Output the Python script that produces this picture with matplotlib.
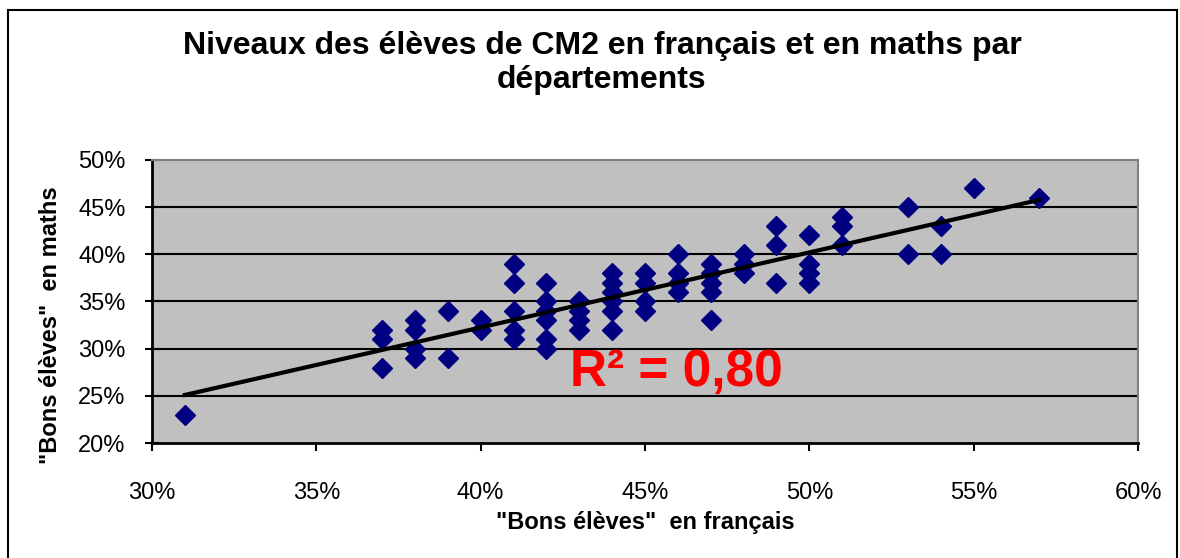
import matplotlib
matplotlib.use("Agg")
import matplotlib.pyplot as plt
import numpy as np
from matplotlib.patches import Rectangle
from matplotlib.ticker import FuncFormatter

plt.rcParams['font.family'] = ['Liberation Sans', 'DejaVu Sans']

# "Bons eleves" en francais (x) et en maths (y), en %
francais = [31,
            37, 37, 37,
            38, 38, 38, 38,
            39, 39,
            40, 40,
            41, 41, 41, 41, 41,
            42, 42, 42, 42, 42, 42,
            43, 43, 43, 43,
            44, 44, 44, 44, 44, 44,
            45, 45, 45, 45,
            46, 46, 46, 46,
            47, 47, 47, 47, 47,
            48, 48, 48,
            49, 49, 49,
            50, 50, 50, 50,
            51, 51, 51,
            53, 53,
            54, 54,
            55,
            57]
maths = [23,
         32, 31, 28,
         33, 32, 30, 29,
         34, 29,
         33, 32,
         39, 37, 34, 32, 31,
         37, 35, 34, 33, 31, 30,
         35, 34, 33, 32,
         38, 37, 36, 35, 34, 32,
         38, 37, 35, 34,
         40, 38, 37, 36,
         39, 38, 37, 36, 33,
         40, 39, 38,
         43, 41, 37,
         42, 39, 38, 37,
         44, 43, 41,
         45, 40,
         43, 40,
         47,
         46]

x_ticks = [30, 35, 40, 45, 50, 55, 60]
y_ticks = [20, 25, 30, 35, 40, 45, 50]
r2_label = "R² = 0,80"

fig = plt.figure(figsize=(11.8, 5.58), dpi=100)
ax = fig.add_axes([152 / 1180, 1 - 443 / 558, (1138 - 152) / 1180, (443 - 160) / 558])
ax.set_facecolor('#C0C0C0')

x = np.array(francais, dtype=float)
y = np.array(maths, dtype=float)
a, b = np.polyfit(x, y, 1)
xl = np.array([x.min(), x.max()])

ax.plot(x, y, linestyle='none', marker='D', ms=10.5, color='#000080', zorder=3)
ax.plot(xl, a * xl + b, color='black', lw=3, zorder=4)

ax.set_xlim(30, 60)
ax.set_ylim(20, 50)
ax.set_xticks(x_ticks)
ax.set_yticks(y_ticks)
pct = FuncFormatter(lambda v, p: "%d%%" % v)
ax.xaxis.set_major_formatter(pct)
ax.yaxis.set_major_formatter(pct)
ax.tick_params(axis='x', direction='out', length=6, width=1.5, labelsize=17, pad=22)
ax.tick_params(axis='y', direction='inout', length=10, width=1.5, labelsize=17, pad=14)

ax.set_axisbelow(True)
ax.yaxis.grid(True, color='black', lw=1.5)
ax.get_ygridlines()[-1].set_visible(False)
ax.get_ygridlines()[0].set_visible(False)
for s in ['top', 'right']:
    ax.spines[s].set_color('#808080')
    ax.spines[s].set_linewidth(1.5)
for s in ['left', 'bottom']:
    ax.spines[s].set_color('black')
    ax.spines[s].set_linewidth(2)

ax.text((570 - 152) / (1138 - 152), (443 - 373) / (443 - 160), r2_label,
        transform=ax.transAxes, ha='left', va='center',
        color='#FF0000', fontsize=37, fontweight='bold', zorder=5)

fig.text(602 / 1180, 1 - 63 / 558,
         "Niveaux des élèves de CM2 en français et en maths par\ndépartements",
         ha='center', va='center', fontsize=23, fontweight='bold', linespacing=1.2)
fig.text(645 / 1180, 1 - 523 / 558, '"Bons élèves"  en français',
         ha='center', va='center', fontsize=17, fontweight='bold')
fig.text(51 / 1180, 1 - 325 / 558, '"Bons élèves"  en maths', rotation=90,
         ha='center', va='center', fontsize=17, fontweight='bold')

fig.patches.append(Rectangle((8 / 1180, -0.05), (1177 - 8) / 1180, (558 - 10) / 558 + 0.05,
                             transform=fig.transFigure, fill=False,
                             edgecolor='black', lw=1.5))

fig.savefig('out.png', dpi=100)
